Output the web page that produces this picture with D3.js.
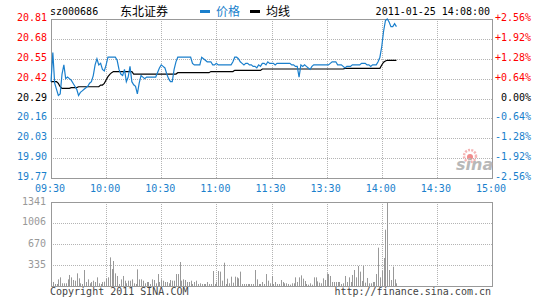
<!DOCTYPE html>
<html>
<head>
<meta charset="utf-8">
<script src="https://cdn.jsdelivr.net/npm/d3@7"></script>
<style>
body { margin: 0; background: #fff; }
svg { display: block; }
text { font-family: "DejaVu Sans Mono", monospace; font-size: 10px; }
.cjk { font-family: "Noto Sans CJK SC", sans-serif; font-size: 12px; }
</style>
</head>
<body>
<script>
// tick labels
var priceTicks = [20.81, 20.68, 20.55, 20.42, 20.29, 20.16, 20.03, 19.90, 19.77];
var pctTicks = ["+2.56%", "+1.92%", "+1.28%", "+0.64%", "0.00%", "-0.64%", "-1.28%", "-1.92%", "-2.56%"];
var timeTicks = ["09:30", "10:00", "10:30", "11:00", "11:30", "13:30", "14:00", "14:30", "15:00"];
var volTicks = [1341, 1006, 670, 335];
var prevClose = 20.29;

// one value per minute, 09:30 .. 14:08
var prices = [
  20.40, 20.59, 20.39, 20.35, 20.31, 20.32, 20.45, 20.51, 20.42, 20.43,
  20.42, 20.41, 20.39, 20.37, 20.35, 20.31, 20.33, 20.34, 20.35, 20.36,
  20.37, 20.39, 20.40, 20.44, 20.51, 20.55, 20.51, 20.52, 20.48, 20.47,
  20.51, 20.56, 20.56, 20.56, 20.56, 20.56, 20.54, 20.48, 20.45, 20.44,
  20.48, 20.40, 20.43, 20.50, 20.40, 20.38, 20.37, 20.32, 20.39, 20.44,
  20.43, 20.42, 20.43, 20.43, 20.43, 20.43, 20.43, 20.43, 20.46, 20.49,
  20.51, 20.50, 20.49, 20.45, 20.42, 20.40, 20.40, 20.48, 20.53, 20.56,
  20.56, 20.56, 20.56, 20.56, 20.56, 20.56, 20.56, 20.52, 20.51, 20.51,
  20.51, 20.51, 20.56, 20.55, 20.54, 20.53, 20.53, 20.53, 20.51, 20.51,
  20.52, 20.51, 20.51, 20.51, 20.51, 20.51, 20.51, 20.51, 20.51, 20.53,
  20.56, 20.56, 20.55, 20.53, 20.52, 20.51, 20.52, 20.52, 20.51, 20.51,
  20.50, 20.50, 20.49, 20.51, 20.50, 20.52, 20.52, 20.51, 20.53, 20.52,
  20.52, 20.52, 20.51, 20.52, 20.52, 20.52, 20.52, 20.52, 20.52, 20.52,
  20.52, 20.51, 20.51, 20.50, 20.50, 20.43, 20.51, 20.50, 20.51, 20.50,
  20.49, 20.48, 20.50, 20.51, 20.51, 20.51, 20.51, 20.51, 20.51, 20.51,
  20.51, 20.51, 20.52, 20.53, 20.53, 20.53, 20.51, 20.51, 20.51, 20.50,
  20.49, 20.50, 20.50, 20.50, 20.51, 20.51, 20.51, 20.51, 20.51, 20.52,
  20.52, 20.52, 20.51, 20.51, 20.50, 20.51, 20.51, 20.51, 20.53, 20.56,
  20.63, 20.73, 20.80, 20.81, 20.79, 20.76, 20.76, 20.78, 20.76
];

var avgPrices = [
  20.400, 20.400, 20.400, 20.400, 20.389, 20.367, 20.356, 20.356, 20.356, 20.356,
  20.356, 20.361, 20.361, 20.361, 20.361, 20.367, 20.367, 20.367, 20.367, 20.367,
  20.367, 20.367, 20.367, 20.367, 20.367, 20.367, 20.367, 20.378, 20.378, 20.389,
  20.411, 20.433, 20.448, 20.459, 20.466, 20.466, 20.466, 20.466, 20.466, 20.466,
  20.466, 20.466, 20.466, 20.466, 20.466, 20.450, 20.450, 20.450, 20.450, 20.450,
  20.450, 20.450, 20.450, 20.450, 20.450, 20.450, 20.450, 20.450, 20.450, 20.450,
  20.450, 20.450, 20.450, 20.450, 20.450, 20.450, 20.450, 20.450, 20.450, 20.459,
  20.459, 20.459, 20.459, 20.459, 20.459, 20.459, 20.459, 20.459, 20.459, 20.459,
  20.459, 20.459, 20.459, 20.459, 20.459, 20.459, 20.459, 20.466, 20.466, 20.466,
  20.466, 20.466, 20.466, 20.466, 20.466, 20.466, 20.466, 20.466, 20.466, 20.466,
  20.474, 20.474, 20.474, 20.474, 20.474, 20.474, 20.474, 20.474, 20.474, 20.474,
  20.474, 20.474, 20.474, 20.474, 20.474, 20.483, 20.483, 20.483, 20.483, 20.483,
  20.483, 20.483, 20.483, 20.483, 20.483, 20.483, 20.483, 20.483, 20.483, 20.483,
  20.483, 20.483, 20.483, 20.483, 20.483, 20.483, 20.483, 20.483, 20.483, 20.483,
  20.483, 20.483, 20.483, 20.483, 20.483, 20.483, 20.483, 20.483, 20.483, 20.483,
  20.483, 20.483, 20.483, 20.483, 20.483, 20.483, 20.483, 20.483, 20.483, 20.483,
  20.487, 20.487, 20.487, 20.487, 20.487, 20.487, 20.487, 20.487, 20.487, 20.487,
  20.487, 20.487, 20.487, 20.487, 20.487, 20.487, 20.487, 20.487, 20.487, 20.487,
  20.509, 20.527, 20.535, 20.540, 20.540, 20.540, 20.540, 20.540, 20.540
];

var volumes = [
  64, 64, 32, 32, 106, 138, 43, 43, 43, 106,
  176, 138, 96, 85, 202, 122, 43, 32, 255, 64,
  106, 43, 64, 85, 64, 138, 43, 32, 64, 69,
  122, 138, 457, 271, 399, 202, 160, 32, 106, 160,
  85, 43, 85, 85, 106, 43, 32, 266, 106, 106,
  85, 43, 64, 64, 32, 106, 96, 43, 191, 64,
  106, 85, 64, 64, 43, 96, 85, 85, 191, 191,
  383, 85, 106, 96, 64, 64, 85, 32, 64, 85,
  32, 43, 32, 32, 32, 64, 32, 32, 239, 32,
  69, 239, 229, 85, 372, 32, 117, 43, 149, 53,
  149, 138, 122, 229, 32, 32, 32, 32, 32, 32,
  32, 255, 106, 32, 32, 64, 32, 191, 85, 43,
  160, 32, 64, 32, 32, 96, 64, 43, 43, 32,
  21, 43, 43, 138, 64, 138, 170, 117, 80, 32,
  21, 43, 21, 138, 138, 74, 53, 43, 122, 96,
  202, 191, 160, 64, 64, 64, 64, 64, 32, 43,
  160, 64, 138, 64, 176, 255, 138, 319, 229, 80,
  319, 53, 128, 43, 43, 64, 64, 191, 612, 138,
  245, 447, 899, 1341, 255, 96, 309, 106, 43
];

var width = 545, height = 300;
var left = 51, right = 492;
var top1 = 19, bottom1 = 178;
var top2 = 202, bottom2 = 286;

var red = "#ff0000", blue = "#1a7fcc", gridColor = "#b4b4b4", frameColor = "#999999";

var svg = d3.select("body").append("svg")
  .attr("width", width)
  .attr("height", height);

var x = d3.scaleLinear().domain([0, 240]).range([left, right]);
var y = d3.scaleLinear().domain([19.77, 20.81]).range([bottom1, top1]);
var yv = d3.scaleLinear().domain([0, 1341]).range([bottom2, top2]);
var timeIdx = timeTicks.map(function(d, i) { return i * 30; });

function tickColor(v) {
  if (Math.abs(v - prevClose) < 0.001) return "#000";
  return v > prevClose ? red : blue;
}

// grids
function dotted(g) {
  g.select(".domain").remove();
  g.selectAll("line")
    .attr("stroke", gridColor)
    .attr("stroke-dasharray", "1,1")
    .attr("shape-rendering", "crispEdges");
}

svg.append("g")
  .attr("transform", "translate(" + left + ",0)")
  .call(d3.axisLeft(y).tickValues(priceTicks.slice(1, -1)).tickSize(-(right - left)).tickFormat(""))
  .call(dotted);

svg.append("g")
  .attr("transform", "translate(0," + top1 + ")")
  .call(d3.axisBottom(x).tickValues(timeIdx.slice(1, -1)).tickSize(bottom1 - top1).tickFormat(""))
  .call(dotted);

svg.append("g")
  .attr("transform", "translate(" + left + ",0)")
  .call(d3.axisLeft(yv).tickValues(volTicks.slice(1)).tickSize(-(right - left)).tickFormat(""))
  .call(dotted);

svg.append("g")
  .attr("transform", "translate(0," + top2 + ")")
  .call(d3.axisBottom(x).tickValues(timeIdx.slice(1, -1)).tickSize(bottom2 - top2).tickFormat(""))
  .call(dotted);

// frames
[[top1, bottom1], [top2, bottom2]].forEach(function(b) {
  svg.append("rect")
    .attr("x", left).attr("y", b[0])
    .attr("width", right - left).attr("height", b[1] - b[0])
    .attr("fill", "none")
    .attr("stroke", frameColor)
    .attr("shape-rendering", "crispEdges");
});

// left price labels
svg.append("g").selectAll("text")
  .data(priceTicks)
  .enter().append("text")
  .attr("x", 47)
  .attr("y", function(d) { return y(d) + 2; })
  .attr("text-anchor", "end")
  .attr("fill", tickColor)
  .text(function(d) { return d.toFixed(2); });

// right percent labels
svg.append("g").selectAll("text")
  .data(pctTicks)
  .enter().append("text")
  .attr("x", 531)
  .attr("y", function(d, i) { return y(priceTicks[i]) + 2; })
  .attr("text-anchor", "end")
  .attr("fill", function(d, i) { return tickColor(priceTicks[i]); })
  .text(function(d) { return d; });

// time labels
svg.append("g").selectAll("text")
  .data(timeTicks)
  .enter().append("text")
  .attr("x", function(d, i) { return x(timeIdx[i]) - 1; })
  .attr("y", 191.5)
  .attr("text-anchor", "middle")
  .attr("fill", blue)
  .text(function(d) { return d; });

// volume labels
svg.append("g").selectAll("text")
  .data(volTicks)
  .enter().append("text")
  .attr("x", 46)
  .attr("y", function(d) { return yv(d) + 2.5; })
  .attr("text-anchor", "end")
  .attr("fill", "#999")
  .text(function(d) { return d; });

// volume bars
svg.append("g").selectAll("line")
  .data(volumes)
  .enter().append("line")
  .attr("x1", function(d, i) { return Math.round(x(i)) + 0.5; })
  .attr("x2", function(d, i) { return Math.round(x(i)) + 0.5; })
  .attr("y1", yv(0))
  .attr("y2", function(d) { return yv(d); })
  .attr("stroke", "#999")
  .attr("stroke-width", 1);

// sina watermark
var logo = svg.append("g").attr("transform", "translate(456,150)");
logo.append("circle").attr("cx", 14).attr("cy", 6).attr("r", 6)
  .attr("fill", "none").attr("stroke", "#f5b5b5").attr("stroke-width", 2.5)
  .attr("stroke-dasharray", "2,1.2");
logo.append("circle").attr("cx", 14).attr("cy", 7).attr("r", 3).attr("fill", "#f08c8c");
logo.append("text").attr("x", 0).attr("y", 20)
  .attr("fill", "#b8b8b8")
  .style("font-family", "'DejaVu Sans', sans-serif")
  .style("font-size", "16px")
  .style("font-style", "italic")
  .style("font-weight", "bold")
  .text("sina");

// average line
var line = d3.line()
  .x(function(d, i) { return x(i); })
  .y(function(d) { return y(d); });

svg.append("path")
  .datum(avgPrices)
  .attr("d", line)
  .attr("fill", "none")
  .attr("stroke", "#000")
  .attr("stroke-width", 1.2);

// price line
svg.append("path")
  .datum(prices)
  .attr("d", line)
  .attr("fill", "none")
  .attr("stroke", blue)
  .attr("stroke-width", 1.2);

// header
svg.append("text").attr("x", 50).attr("y", 15).attr("fill", "#000").text("sz000686");
svg.append("text").attr("class", "cjk").attr("x", 120).attr("y", 15.5).attr("fill", "#000").text("东北证券");
svg.append("rect").attr("x", 200).attr("y", 10).attr("width", 10).attr("height", 3).attr("fill", blue);
svg.append("text").attr("class", "cjk").attr("x", 216).attr("y", 15.5).attr("fill", blue).text("价格");
svg.append("rect").attr("x", 250).attr("y", 10).attr("width", 10).attr("height", 3).attr("fill", "#000");
svg.append("text").attr("class", "cjk").attr("x", 266).attr("y", 15.5).attr("fill", "#000").text("均线");
svg.append("text").attr("x", 490).attr("y", 15).attr("text-anchor", "end").attr("fill", "#000").text("2011-01-25 14:08:00");

// footer
svg.append("text").attr("x", 50).attr("y", 295).attr("fill", "#444").text("Copyright 2011 SINA.COM");
svg.append("text").attr("x", 491).attr("y", 295).attr("text-anchor", "end").attr("fill", "#444").text("http://finance.sina.com.cn");
</script>
</body>
</html>
